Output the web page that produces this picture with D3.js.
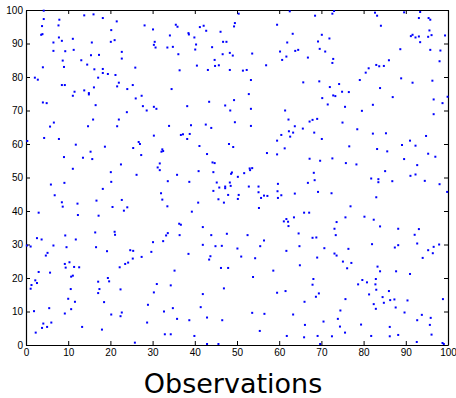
<!DOCTYPE html>
<html>
<head>
<meta charset="utf-8">
<script src="https://cdn.jsdelivr.net/npm/d3@7"></script>
<style>
  html, body { margin: 0; padding: 0; background: #fff; }
  svg { display: block; }
  .tick text { font-family: "Liberation Sans", Arial, sans-serif; font-size: 10px; fill: #000; }
  .domain, .tick line { stroke: #000; }
</style>
</head>
<body>
<svg id="chart" width="456" height="398"></svg>
<script>
// axis ticks
const xTicks = [0, 10, 20, 30, 40, 50, 60, 70, 80, 90, 100];
const yTicks = [0, 10, 20, 30, 40, 50, 60, 70, 80, 90, 100];
const title = 'Observations';

// observations, [x, y]
const points = [
  [4.2,99.8],[13.8,98.4],[16.0,98.7],[18.2,97.6],[4.2,97.3],[7.9,97.1],[21.5,96.6],[3.8,95.2],[7.7,95.4],[20.2,94.0],
  [3.6,92.6],[3.9,92.8],[7.8,91.8],[8.5,90.8],[11.1,91.4],[6.5,90.3],[15.6,90.3],[20.1,90.5],[21.0,91.0],[6.5,87.8],
  [9.3,87.7],[11.3,88.1],[22.7,87.5],[15.4,86.5],[17.3,86.6],[22.7,85.5],[8.7,84.9],[13.1,85.0],[14.5,83.7],[4.0,82.9],
  [9.0,83.0],[16.2,82.3],[18.2,82.4],[18.2,81.2],[19.4,80.9],[21.2,80.6],[2.1,79.8],[2.8,79.2],[17.1,79.8],[22.0,78.3],
  [25.3,77.6],[8.5,77.6],[9.2,77.6],[21.6,77.2],[24.0,76.4],[16.1,76.9],[11.5,75.6],[13.8,76.0],[14.9,75.2],[14.9,74.8],
  [11.1,74.4],[4.0,72.4],[4.9,72.2],[16.5,71.6],[23.9,69.5],[15.9,67.3],[22.0,67.3],[6.6,66.4],
  [50.4,98.9],[28.1,95.4],[30.1,94.2],[35.5,95.6],[35.9,95.0],[41.2,94.9],[42.1,95.3],[49.5,96.1],[49.3,95.1],[38.5,93.1],
  [38.6,92.7],[42.7,93.8],[46.1,93.5],[34.1,92.4],[39.9,91.8],[30.5,90.5],[30.3,89.6],[30.7,88.8],[33.5,88.8],[34.8,89.0],
  [40.3,89.7],[40.1,88.2],[44.1,88.9],[46.7,90.5],[47.5,90.5],[36.1,86.8],[46.6,86.8],[48.3,87.2],[49.0,86.4],[44.7,85.1],
  [25.9,82.8],[36.4,82.0],[40.5,83.4],[43.1,82.1],[44.8,83.3],[45.7,83.5],[48.3,82.1],[34.5,76.4],[27.4,74.4],[26.0,73.6],
  [43.4,72.6],[49.3,73.1],[27.7,71.3],[30.3,71.1],[30.9,70.5],[28.6,70.0],[38.2,71.3],[47.2,71.5],[48.4,70.0],[49.5,66.5],
  [62.5,99.6],[68.5,98.3],[72.6,98.9],[73.0,99.7],[59.5,95.6],[63.2,92.9],[70.1,92.6],[71.9,91.5],[69.2,90.6],[61.9,90.3],
  [53.6,87.0],[60.2,87.6],[63.8,87.8],[64.5,88.1],[69.6,88.4],[70.9,87.6],[61.7,86.1],[60.7,85.1],[66.8,85.8],[72.8,85.4],
  [72.6,84.2],[56.9,83.5],[51.4,81.9],[52.3,82.1],[53.3,79.1],[65.7,78.4],[69.5,78.7],[74.2,77.9],[72.0,77.0],[74.9,75.6],
  [52.8,74.9],[72.8,74.5],[73.3,74.3],[70.2,73.7],[71.5,71.8],[75.6,71.1],[53.3,70.5],[61.4,70.0],[62.2,67.3],[67.9,67.2],
  [69.0,67.5],[67.2,66.7],
  [82.7,99.2],[83.2,98.3],[89.6,99.3],[93.4,99.4],[93.1,97.6],[95.4,97.6],[95.8,97.1],[84.1,95.3],[95.6,93.9],[91.2,92.2],
  [91.6,92.6],[92.3,91.8],[93.1,92.1],[95.3,92.0],[96.1,92.5],[99.3,92.4],[93.4,90.4],[88.7,88.3],[95.8,88.1],[98.2,87.9],
  [98.0,84.7],[86.0,85.0],[83.0,83.6],[83.7,83.2],[84.8,83.3],[81.2,82.6],[80.5,81.3],[79.1,79.1],[88.9,79.6],[91.6,78.3],
  [96.3,78.9],[83.9,76.7],[76.5,75.5],[86.9,74.0],[96.6,73.3],[99.9,74.1],[98.7,72.2],[82.2,71.7],[79.6,69.9],[96.6,68.9],
  [5.7,65.2],[14.7,65.3],[21.6,65.3],[0.3,60.9],[4.3,61.8],[7.8,61.5],[11.8,59.8],[18.7,59.2],[25.4,58.8],[15.3,57.7],
  [9.0,56.1],[13.5,55.9],[15.7,55.5],[22.5,53.9],[11.1,52.6],[20.1,51.6],[5.9,47.9],[9.1,48.4],[20.2,48.7],[18.2,46.6],
  [6.8,44.7],[8.5,42.6],[8.7,41.3],[12.2,42.2],[16.7,43.1],[22.7,43.3],[20.5,41.2],[24.0,41.1],[23.2,40.1],[3.0,39.5],
  [12.3,38.8],[17.2,38.6],[16.4,33.6],[21.0,33.8],[21.1,32.9],[9.3,32.7],
  [33.9,65.4],[39.1,65.6],[42.6,65.8],[43.9,64.8],[30.3,62.5],[36.7,62.7],[37.2,62.9],[38.8,63.0],[38.2,61.5],[26.7,60.6],
  [27.0,60.0],[32.3,58.4],[32.1,57.7],[32.5,57.9],[27.3,56.7],[41.1,59.4],[48.1,60.0],[49.1,59.1],[42.9,57.0],[44.2,54.5],
  [44.7,54.3],[31.7,54.2],[31.2,53.0],[31.7,52.2],[26.2,50.8],[35.8,50.8],[40.9,51.9],[44.4,51.6],[48.6,51.1],[48.8,51.5],
  [50.2,50.2],[33.6,48.9],[38.7,48.7],[45.2,48.5],[48.3,48.5],[45.8,47.0],[47.2,47.3],[47.2,46.8],[48.5,47.5],[44.4,46.0],
  [32.0,45.3],[47.9,44.8],[50.4,44.8],[50.2,43.6],[32.3,43.4],[45.6,43.5],[40.8,42.5],[46.9,42.5],[33.5,41.4],[39.3,39.8],
  [36.3,36.2],[36.7,35.9],[41.9,35.2],[47.6,33.2],[33.6,33.4],[33.2,32.7],[36.4,32.8],[43.9,32.8],
  [75.0,66.4],[53.3,65.4],[63.7,65.3],[65.6,64.6],[62.3,63.8],[63.3,63.4],[68.3,63.4],[60.5,62.7],[62.6,62.2],[70.1,61.5],
  [59.5,61.0],[61.3,58.7],[57.1,57.3],[59.5,56.9],[67.2,55.6],[69.7,55.0],[72.6,55.7],[75.8,54.3],[53.0,52.7],[53.6,52.8],
  [53.1,52.2],[51.7,51.3],[68.2,51.4],[68.4,49.2],[66.8,48.4],[52.8,47.3],[55.1,47.3],[59.7,48.1],[59.6,45.9],[55.1,45.6],
  [63.7,45.2],[69.2,45.7],[72.4,45.3],[60.5,44.7],[56.4,44.6],[57.2,44.5],[55.7,43.9],[59.7,43.9],[55.2,40.9],[65.9,39.5],
  [67.1,39.5],[63.5,38.1],[75.7,38.1],[61.7,37.6],[61.1,36.9],[62.1,36.8],[73.6,36.7],[62.2,35.5],[73.1,34.7],[64.6,33.3],
  [73.4,32.8],[52.5,32.8],
  [78.5,64.4],[82.2,63.1],[85.3,63.2],[94.8,62.4],[76.6,59.3],[83.2,58.5],[85.6,57.8],[89.1,59.7],[91.0,61.0],[92.3,59.5],
  [95.3,57.1],[97.0,56.2],[89.6,55.5],[78.3,53.9],[92.7,53.7],[85.1,51.9],[81.8,49.7],[83.5,49.5],[83.5,48.6],[86.8,48.9],
  [91.1,50.5],[92.3,50.9],[94.5,49.0],[98.0,48.0],[99.8,45.7],[83.0,44.1],[76.9,41.4],[80.2,38.3],[82.4,37.4],[83.9,35.4],
  [88.2,34.7],[93.1,34.6],[92.1,32.9],
  [2.6,31.9],[3.7,31.5],[11.8,31.5],[0.2,29.7],[1.1,29.4],[6.5,29.7],[9.6,29.2],[16.6,29.2],[19.2,28.0],[24.7,28.3],
  [25.4,28.1],[5.1,27.5],[4.7,26.7],[25.3,25.8],[10.3,24.7],[9.2,24.2],[9.4,23.1],[11.4,23.3],[12.6,23.2],[23.5,24.2],
  [24.2,24.6],[22.2,23.2],[3.0,21.8],[5.7,21.6],[10.7,20.4],[11.1,20.7],[19.4,20.0],[19.7,19.0],[17.1,18.9],[2.2,19.3],
  [2.6,18.5],[1.3,17.9],[1.1,16.8],[10.6,16.7],[17.4,16.7],[17.1,15.5],[22.4,16.6],[10.0,13.8],[11.6,12.9],[18.5,12.8],
  [5.5,11.0],[10.7,10.7],[1.9,10.1],[9.2,9.4],[20.2,9.1],[22.7,9.7],[22.4,8.6],[4.1,6.4],[6.0,6.7],[3.8,5.1],
  [5.0,5.4],[13.3,5.4],[18.0,4.6],[2.3,3.7],
  [30.1,30.7],[32.5,31.0],[41.9,29.9],[44.9,29.5],[46.4,29.6],[50.1,28.8],[29.7,27.8],[27.4,26.3],[38.5,27.2],[43.7,26.5],
  [43.4,25.5],[35.2,22.2],[46.2,23.0],[47.9,23.0],[31.0,18.2],[34.3,17.8],[46.9,16.9],[30.3,15.7],[41.9,15.2],[28.9,12.0],
  [34.8,11.0],[41.4,11.3],[32.7,10.0],[35.8,7.8],[38.7,7.4],[42.9,8.2],[46.5,7.4],[28.7,6.7],[32.9,3.2],[34.3,3.2],
  [39.9,2.7],[25.8,0.7],[42.9,0.3],[45.6,0.3],
  [67.9,32.0],[68.8,32.1],[56.4,31.2],[55.5,29.5],[64.8,29.5],[70.7,28.9],[61.7,28.1],[73.1,27.3],[73.6,26.7],[51.0,26.4],
  [54.3,25.9],[69.0,26.1],[75.1,24.9],[64.9,23.8],[58.6,22.2],[53.8,20.3],[68.1,19.7],[67.9,18.0],[69.4,15.4],[68.7,14.4],
  [59.5,15.6],[61.5,16.1],[66.0,12.9],[75.7,13.7],[74.5,10.3],[53.6,9.6],[56.5,9.3],[63.3,9.1],[73.9,7.8],[70.5,7.0],
  [66.1,6.0],[74.4,5.5],[75.6,3.7],[55.4,4.2],[61.8,2.7],[65.9,2.3],[69.1,2.7],[72.5,2.6],[69.7,0.3],
  [76.4,28.7],[82.0,30.1],[87.4,29.1],[88.2,29.8],[92.7,30.3],[95.3,28.3],[96.6,29.3],[97.9,30.0],[96.4,27.4],[94.0,26.0],
  [77.1,24.5],[76.1,22.9],[83.3,23.4],[83.9,22.0],[87.7,22.0],[91.0,21.2],[79.7,19.4],[80.8,18.7],[82.9,19.7],[82.8,18.1],
  [78.7,18.1],[83.0,16.5],[86.0,16.1],[81.3,15.1],[84.5,14.3],[86.3,13.4],[87.3,13.6],[90.4,13.3],[98.8,13.7],[82.4,12.2],
  [84.8,12.6],[82.9,10.8],[87.6,11.2],[89.7,9.7],[93.8,9.0],[92.7,7.4],[95.9,8.1],[95.7,6.0],[79.4,6.1],[86.2,5.4],
  [81.8,2.7],[86.2,2.6],[88.2,3.0],[96.1,3.1],[92.6,0.9],[98.7,0.6],[99.0,0.3]
];

const svg = d3.select('#chart');
const plotLeft = 26, plotRight = 448, plotTop = 10, plotBottom = 345;

const x = d3.scaleLinear().domain([0, 100]).range([plotLeft, plotRight]);
const y = d3.scaleLinear().domain([0, 100]).range([plotBottom, plotTop]);

// box with inward ticks on all four sides, labels only bottom/left
svg.append('g')
  .attr('transform', `translate(0,${plotBottom})`)
  .call(d3.axisBottom(x).tickValues(xTicks).tickSizeInner(-4).tickSizeOuter(0).tickPadding(4));

svg.append('g')
  .attr('transform', `translate(0,${plotTop})`)
  .call(d3.axisTop(x).tickValues(xTicks).tickSizeInner(-4).tickSizeOuter(0).tickFormat(''));

svg.append('g')
  .attr('transform', `translate(${plotLeft},0)`)
  .call(d3.axisLeft(y).tickValues(yTicks).tickSizeInner(-4).tickSizeOuter(0).tickPadding(3));

svg.append('g')
  .attr('transform', `translate(${plotRight},0)`)
  .call(d3.axisRight(y).tickValues(yTicks).tickSizeInner(-4).tickSizeOuter(0).tickFormat(''));

svg.selectAll('.domain').attr('stroke-width', 1.2);

// the dots
svg.append('g')
  .selectAll('rect')
  .data(points)
  .enter()
  .append('rect')
  .attr('x', d => x(d[0]) - 1)
  .attr('y', d => y(d[1]) - 1)
  .attr('width', 2)
  .attr('height', 2)
  .attr('fill', '#0000ff');

svg.append('text')
  .attr('x', 233)
  .attr('y', 393)
  .attr('text-anchor', 'middle')
  .attr('font-family', '"DejaVu Sans", sans-serif')
  .attr('font-size', 27)
  .attr('fill', '#000')
  .text(title);
</script>
</body>
</html>
